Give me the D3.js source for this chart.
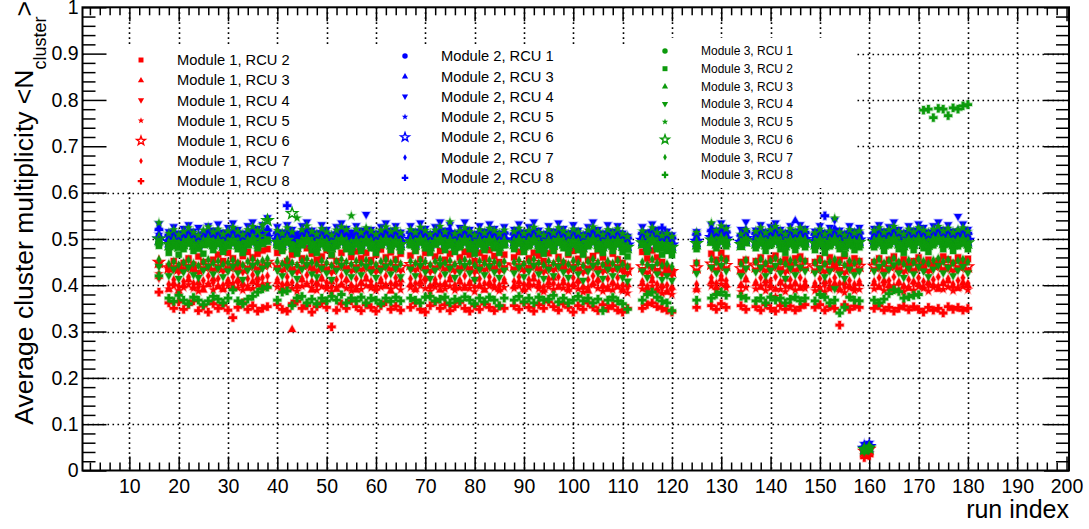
<!DOCTYPE html>
<html>
<head>
<meta charset="utf-8">
<script src="https://cdn.jsdelivr.net/npm/d3@7"></script>
<style>
  html, body { margin: 0; padding: 0; background: #fff; }
  svg { display: block; font-family: "Liberation Sans", Arial, Helvetica, sans-serif; }
</style>
</head>
<body>
<svg id="chart" width="1089" height="529"></svg>
<script>
// ---- run indices that have data (shared by every series) ----
const runs = [
  16,
  18,19,20,21,22,23,24,25,26,27,28,29,30,31,32,33,34,35,36,37,38,
  40,41,42,43,44,45,46,47,48,49,50,51,52,53,54,55,56,57,58,59,60,61,62,63,64,65,
  67,68,69,70,71,72,73,74,75,76,77,78,79,80,81,82,83,84,85,86,
  88,89,90,91,92,93,94,95,96,97,98,99,100,101,102,103,104,105,106,107,108,109,110,111,
  114,115,116,117,118,119,120,
  125,
  128,129,130,131,
  134,135,
  137,138,139,140,141,142,143,144,145,146,147,
  149,150,151,152,153,154,155,156,157,158,
  159,160,
  161,162,163,164,165,166,167,168,169,170,171,172,173,174,175,176,177,178,179,180
];

// ---- Module 1 ----
const m1r2 = [.445,
  .440,.452,.436,.448,.458,.444,.462,.450,.439,.455,.466,.452,.470,.458,.447,.463,.472,.460,.468,.475,.478,
  .470,.478,.452,.466,.474,.458,.480,.468,.455,.462,.476,.464,.452,.470,.479,.461,.473,.458,.470,.454,.466,.477,.460,.471,.456,.468,
  .464,.475,.456,.470,.481,.462,.474,.455,.468,.479,.460,.472,.466,.452,.470,.459,.476,.463,.450,.466,
  .460,.472,.478,.458,.470,.464,.452,.469,.476,.461,.448,.466,.474,.457,.470,.455,.463,.475,.460,.446,.468,.456,.448,.440,
  .472,.458,.475,.460,.450,.438,.430,
  .448,
  .468,.455,.470,.458,
  .450,.455,
  .452,.460,.446,.458,.464,.450,.456,.444,.458,.462,.452,
  .450,.458,.446,.460,.448,.455,.463,.447,.458,.452,
  .040,.045,
  .450,.458,.446,.455,.462,.449,.456,.444,.452,.460,.447,.455,.443,.452,.462,.456,.448,.460,.452,.457];
const m1r3 = [.420,
  .392,.404,.388,.400,.412,.396,.406,.390,.402,.414,.398,.392,.408,.396,.412,.404,.394,.408,.416,.402,.398,
  .408,.394,.404,.305,.398,.412,.402,.390,.406,.414,.398,.408,.392,.402,.412,.398,.390,.406,.414,.400,.394,.408,.398,.388,.404,.412,
  .402,.392,.408,.416,.398,.406,.390,.402,.412,.396,.408,.394,.404,.414,.400,.390,.406,.398,.392,.408,
  .398,.408,.392,.404,.414,.400,.390,.406,.416,.396,.406,.392,.402,.410,.396,.388,.404,.412,.398,.392,.406,.398,.390,.402,
  .404,.394,.410,.392,.400,.386,.396,
  .392,
  .408,.396,.414,.402,
  .400,.412,
  .404,.396,.410,.400,.392,.406,.414,.398,.404,.394,.402,
  .400,.392,.408,.396,.404,.392,.406,.398,.394,.404,
  .038,.042,
  .404,.396,.410,.400,.392,.406,.398,.394,.408,.402,.396,.406,.400,.392,.404,.410,.398,.394,.406,.400];
const m1r4 = [.445,
  .430,.436,.428,.433,.438,.431,.427,.435,.440,.432,.437,.430,.434,.439,.433,.428,.436,.441,.434,.438,.442,
  .436,.431,.440,.433,.428,.437,.442,.434,.430,.438,.433,.427,.436,.441,.435,.430,.437,.432,.439,.434,.429,.436,.440,.433,.438,.431,
  .437,.432,.440,.435,.429,.436,.441,.433,.438,.430,.435,.440,.434,.428,.437,.432,.439,.435,.430,.436,
  .434,.439,.431,.436,.441,.433,.428,.437,.432,.440,.435,.430,.438,.433,.427,.436,.441,.434,.429,.437,.432,.438,.430,.425,
  .432,.426,.438,.430,.424,.428,.422,
  .430,
  .438,.432,.440,.435,
  .428,.436,
  .432,.438,.430,.435,.440,.433,.428,.436,.431,.438,.434,
  .430,.436,.428,.433,.438,.431,.426,.435,.430,.433,
  .036,.040,
  .433,.438,.430,.435,.440,.432,.428,.436,.431,.438,.434,.429,.436,.440,.433,.437,.430,.435,.438,.432];
const m1r5 = [.425,
  .392,.398,.388,.395,.401,.393,.387,.396,.402,.390,.397,.391,.399,.404,.394,.389,.398,.393,.400,.395,.403,
  .396,.390,.399,.393,.387,.398,.402,.394,.389,.397,.392,.386,.395,.400,.393,.388,.397,.391,.399,.394,.389,.396,.401,.392,.398,.390,
  .395,.390,.399,.393,.387,.396,.401,.392,.398,.389,.394,.399,.393,.386,.397,.391,.398,.394,.388,.395,
  .393,.398,.389,.395,.400,.392,.386,.396,.391,.399,.394,.388,.397,.392,.385,.395,.400,.393,.387,.396,.390,.397,.388,.383,
  .392,.385,.398,.388,.382,.386,.380,
  .390,
  .398,.390,.402,.394,
  .386,.395,
  .392,.398,.388,.394,.376,.391,.386,.396,.389,.397,.393,
  .388,.395,.386,.392,.397,.389,.384,.394,.388,.391,
  .034,.038,
  .392,.397,.388,.394,.399,.390,.386,.395,.389,.397,.393,.387,.395,.399,.391,.396,.388,.394,.397,.390];
const m1r6 = [.450,
  .438,.443,.436,.441,.446,.439,.434,.442,.447,.440,.445,.438,.442,.447,.441,.436,.444,.449,.442,.446,.450,
  .444,.439,.448,.441,.436,.445,.450,.442,.438,.446,.441,.435,.444,.449,.443,.438,.445,.440,.447,.442,.437,.444,.448,.441,.446,.439,
  .445,.440,.448,.443,.437,.444,.449,.441,.446,.438,.443,.448,.442,.436,.445,.440,.447,.443,.438,.444,
  .442,.447,.439,.444,.449,.441,.436,.445,.440,.448,.443,.438,.446,.441,.435,.444,.449,.442,.437,.445,.440,.446,.438,.433,
  .440,.434,.446,.438,.432,.436,.430,
  .438,
  .446,.440,.448,.443,
  .436,.444,
  .440,.446,.438,.443,.448,.441,.436,.444,.439,.446,.442,
  .438,.444,.436,.441,.446,.439,.434,.443,.438,.441,
  .042,.046,
  .441,.446,.438,.443,.448,.440,.436,.444,.439,.446,.442,.437,.444,.448,.441,.445,.438,.443,.446,.440];
const m1r7 = [.415,
  .402,.412,.398,.408,.418,.404,.396,.410,.420,.406,.414,.400,.410,.418,.406,.398,.414,.422,.408,.416,.420,
  .412,.402,.418,.406,.398,.414,.422,.408,.400,.416,.406,.396,.412,.420,.410,.400,.414,.404,.418,.408,.398,.412,.420,.404,.416,.402,
  .414,.404,.420,.410,.398,.412,.420,.404,.416,.400,.410,.420,.406,.396,.414,.404,.418,.410,.400,.412,
  .408,.418,.402,.412,.420,.406,.396,.414,.404,.418,.410,.400,.416,.406,.396,.412,.420,.408,.398,.414,.404,.416,.400,.394,
  .408,.396,.416,.402,.394,.400,.390,
  .402,
  .416,.404,.420,.410,
  .400,.414,
  .406,.416,.402,.410,.418,.406,.398,.412,.404,.416,.408,
  .404,.414,.400,.408,.416,.404,.396,.410,.402,.408,
  .040,.044,
  .408,.416,.402,.410,.418,.406,.398,.412,.404,.416,.408,.400,.412,.418,.406,.414,.402,.410,.416,.404];
const m1r8 = [.385,
  .362,.350,.364,.348,.358,.366,.345,.355,.342,.360,.350,.357,.346,.330,.352,.362,.348,.356,.344,.350,.354,
  .358,.348,.344,.360,.365,.350,.356,.342,.354,.362,.352,.310,.346,.360,.350,.366,.354,.345,.358,.352,.344,.356,.364,.348,.355,.346,
  .352,.362,.348,.342,.356,.364,.350,.358,.345,.354,.363,.350,.344,.356,.348,.360,.352,.345,.355,.350,
  .356,.348,.362,.352,.344,.358,.350,.364,.354,.346,.360,.352,.342,.356,.348,.362,.353,.345,.358,.350,.356,.346,.342,.350,
  .350,.358,.362,.354,.350,.346,.342,
  .352,
  .356,.348,.360,.352,
  .356,.348,
  .354,.346,.358,.350,.344,.356,.348,.355,.346,.352,.358,
  .352,.358,.346,.354,.350,.314,.358,.348,.355,.352,
  .028,.032,
  .350,.356,.346,.352,.344,.350,.355,.347,.354,.348,.342,.352,.346,.350,.340,.354,.348,.352,.346,.350];

// ---- Module 2 ----
const m2r1 = [.505,
  .498,.503,.495,.500,.506,.499,.494,.502,.507,.500,.504,.497,.501,.507,.500,.495,.503,.508,.501,.505,.509,
  .503,.498,.507,.500,.495,.504,.509,.501,.497,.505,.500,.494,.503,.508,.502,.497,.504,.499,.506,.501,.496,.503,.507,.500,.505,.498,
  .504,.499,.507,.502,.496,.503,.508,.500,.505,.497,.502,.507,.501,.495,.504,.499,.506,.502,.497,.503,
  .501,.506,.498,.503,.508,.500,.495,.504,.499,.507,.502,.497,.505,.500,.494,.503,.508,.501,.496,.504,.499,.505,.497,.492,
  .502,.496,.508,.500,.494,.498,.492,
  .500,
  .508,.502,.510,.505,
  .498,.506,
  .502,.508,.500,.505,.510,.503,.498,.506,.501,.508,.504,
  .500,.506,.498,.503,.508,.501,.496,.505,.500,.503,
  .050,.054,
  .503,.508,.500,.505,.510,.502,.498,.506,.501,.508,.504,.499,.506,.510,.503,.507,.500,.505,.508,.502];
const m2r3 = [.525,
  .512,.517,.509,.514,.520,.513,.508,.516,.521,.514,.518,.511,.515,.521,.514,.509,.517,.522,.515,.519,.523,
  .517,.512,.521,.514,.509,.518,.523,.515,.511,.519,.514,.508,.517,.522,.516,.511,.518,.513,.520,.515,.510,.517,.521,.514,.519,.512,
  .518,.513,.521,.516,.510,.517,.522,.514,.519,.511,.516,.521,.515,.509,.518,.513,.520,.516,.511,.517,
  .515,.520,.512,.517,.522,.514,.509,.518,.513,.521,.516,.511,.519,.514,.508,.517,.522,.515,.510,.518,.513,.519,.511,.506,
  .516,.510,.522,.514,.508,.512,.506,
  .514,
  .522,.516,.524,.519,
  .512,.520,
  .516,.522,.514,.519,.524,.517,.512,.520,.540,.522,.518,
  .514,.520,.512,.517,.522,.515,.510,.519,.514,.517,
  .052,.056,
  .517,.522,.514,.519,.524,.516,.512,.520,.515,.522,.518,.513,.520,.524,.517,.521,.514,.519,.522,.516];
const m2r4 = [.532,
  .515,.526,.512,.522,.530,.516,.524,.510,.528,.518,.532,.514,.524,.534,.520,.512,.528,.536,.522,.530,.545,
  .526,.514,.530,.520,.510,.528,.536,.518,.512,.530,.520,.508,.526,.534,.522,.514,.528,.518,.552,.520,.512,.526,.534,.518,.528,.514,
  .528,.516,.534,.522,.510,.526,.536,.518,.530,.512,.524,.536,.520,.510,.528,.516,.532,.522,.512,.526,
  .520,.532,.514,.526,.536,.518,.510,.528,.516,.534,.522,.512,.530,.518,.508,.526,.536,.520,.512,.530,.516,.528,.512,.505,
  .526,.514,.532,.520,.510,.516,.508,
  .515,
  .530,.518,.534,.524,
  .520,.536,
  .518,.530,.514,.526,.534,.520,.512,.528,.516,.530,.522,
  .516,.528,.512,.524,.540,.518,.510,.528,.516,.524,
  .055,.058,
  .522,.530,.516,.526,.536,.520,.512,.528,.518,.532,.524,.514,.528,.536,.520,.530,.516,.548,.532,.520];
const m2r5 = [.510,
  .505,.509,.502,.507,.512,.506,.501,.508,.513,.506,.510,.503,.507,.512,.506,.502,.509,.514,.507,.511,.515,
  .509,.504,.512,.506,.501,.510,.514,.507,.503,.511,.506,.500,.509,.513,.508,.503,.510,.505,.512,.507,.502,.509,.513,.506,.511,.504,
  .510,.505,.513,.508,.502,.509,.514,.506,.511,.503,.508,.513,.507,.501,.510,.505,.512,.508,.503,.509,
  .507,.512,.504,.509,.514,.506,.501,.510,.505,.513,.508,.503,.511,.506,.500,.509,.514,.507,.502,.510,.505,.511,.503,.498,
  .508,.502,.514,.506,.500,.504,.498,
  .506,
  .514,.508,.516,.511,
  .504,.512,
  .508,.514,.506,.511,.516,.509,.504,.512,.507,.514,.510,
  .506,.512,.504,.509,.514,.507,.502,.511,.506,.509,
  .058,.060,
  .509,.514,.506,.511,.516,.508,.504,.512,.507,.514,.510,.505,.512,.516,.509,.513,.506,.511,.514,.508];
const m2r6 = [.500,
  .494,.498,.491,.496,.501,.495,.490,.497,.502,.495,.499,.492,.496,.501,.495,.491,.498,.503,.496,.500,.504,
  .498,.493,.501,.495,.490,.499,.504,.496,.492,.500,.495,.489,.498,.503,.497,.492,.499,.494,.501,.496,.491,.498,.502,.495,.500,.493,
  .499,.494,.502,.497,.491,.498,.503,.495,.500,.492,.497,.502,.496,.490,.499,.494,.501,.497,.492,.498,
  .496,.501,.493,.498,.503,.495,.490,.499,.494,.502,.497,.492,.500,.495,.489,.498,.503,.496,.491,.499,.494,.500,.492,.487,
  .497,.491,.503,.495,.489,.493,.487,
  .495,
  .503,.497,.505,.500,
  .493,.501,
  .497,.503,.495,.500,.505,.498,.493,.501,.496,.503,.499,
  .495,.501,.493,.498,.503,.496,.491,.500,.495,.498,
  .048,.052,
  .498,.503,.495,.500,.505,.497,.493,.501,.496,.503,.499,.494,.501,.505,.498,.502,.495,.500,.503,.497];
const m2r7 = [.508,
  .500,.504,.498,.503,.507,.501,.496,.504,.509,.502,.506,.499,.503,.508,.502,.497,.505,.510,.503,.507,.511,
  .505,.500,.508,.502,.497,.506,.511,.503,.499,.507,.502,.496,.505,.510,.504,.499,.506,.501,.508,.503,.498,.505,.509,.502,.507,.500,
  .506,.501,.509,.504,.498,.505,.510,.502,.507,.499,.504,.509,.503,.497,.506,.501,.508,.504,.499,.505,
  .503,.508,.500,.505,.510,.502,.497,.506,.501,.509,.504,.499,.507,.502,.496,.505,.510,.503,.498,.506,.501,.507,.499,.494,
  .504,.498,.510,.502,.496,.500,.494,
  .502,
  .510,.504,.512,.507,
  .500,.508,
  .504,.510,.502,.507,.512,.505,.500,.508,.503,.510,.506,
  .502,.508,.500,.505,.510,.503,.498,.507,.502,.505,
  .052,.055,
  .505,.510,.502,.507,.512,.504,.500,.508,.503,.510,.506,.501,.508,.512,.505,.509,.502,.507,.510,.504];
const m2r8 = [.520,
  .508,.513,.505,.510,.516,.509,.504,.512,.517,.510,.514,.507,.511,.517,.510,.505,.513,.518,.511,.515,.519,
  .513,.508,.572,.510,.505,.514,.519,.511,.507,.515,.510,.504,.513,.518,.512,.507,.514,.509,.516,.511,.506,.513,.517,.510,.515,.508,
  .514,.509,.517,.512,.506,.513,.518,.510,.515,.507,.512,.517,.511,.505,.514,.509,.516,.512,.507,.513,
  .511,.516,.508,.513,.518,.510,.505,.514,.509,.517,.512,.507,.515,.510,.504,.513,.518,.511,.506,.514,.509,.515,.507,.502,
  .512,.506,.518,.510,.524,.508,.502,
  .510,
  .518,.512,.520,.515,
  .508,.516,
  .512,.518,.510,.515,.520,.513,.508,.516,.511,.518,.514,
  .510,.516,.550,.513,.518,.511,.506,.515,.510,.513,
  .050,.053,
  .513,.518,.510,.515,.520,.512,.508,.516,.511,.518,.514,.509,.516,.520,.513,.517,.510,.515,.518,.512];

// ---- Module 3 ----
const m3r1 = [.495,
  .486,.491,.484,.489,.494,.487,.482,.490,.495,.488,.492,.485,.489,.494,.488,.483,.491,.496,.489,.493,.497,
  .491,.486,.495,.488,.483,.492,.497,.489,.485,.493,.488,.482,.491,.496,.490,.485,.492,.487,.494,.489,.484,.491,.495,.488,.493,.486,
  .492,.487,.495,.490,.484,.491,.496,.488,.493,.485,.490,.495,.489,.483,.492,.487,.494,.490,.485,.491,
  .489,.494,.486,.491,.496,.488,.483,.492,.487,.495,.490,.485,.493,.488,.482,.491,.496,.489,.484,.492,.487,.493,.485,.480,
  .490,.484,.496,.488,.482,.486,.480,
  .488,
  .496,.490,.498,.493,
  .486,.494,
  .490,.496,.488,.493,.498,.491,.486,.494,.489,.496,.492,
  .488,.494,.486,.491,.496,.489,.484,.493,.488,.491,
  .045,.050,
  .491,.496,.488,.493,.498,.490,.486,.494,.489,.496,.492,.487,.494,.498,.491,.495,.488,.493,.496,.490];
const m3r2 = [.485,
  .470,.484,.466,.478,.490,.474,.482,.468,.488,.476,.492,.472,.484,.494,.478,.470,.486,.494,.480,.490,.498,
  .484,.474,.494,.478,.468,.486,.496,.476,.470,.488,.480,.466,.484,.496,.478,.472,.488,.474,.492,.480,.470,.486,.494,.476,.488,.474,
  .486,.474,.494,.480,.470,.488,.496,.476,.486,.472,.482,.494,.478,.468,.488,.476,.492,.480,.470,.486,
  .478,.490,.472,.484,.494,.476,.468,.486,.474,.492,.480,.470,.488,.476,.466,.484,.494,.478,.470,.486,.474,.488,.472,.462,
  .488,.472,.496,.478,.466,.474,.465,
  .478,
  .492,.480,.494,.484,
  .488,.498,
  .480,.490,.474,.486,.494,.478,.470,.488,.476,.490,.482,
  .476,.488,.470,.484,.492,.478,.468,.486,.476,.482,
  .044,.048,
  .482,.490,.474,.486,.494,.478,.470,.488,.476,.492,.480,.472,.486,.494,.478,.488,.474,.484,.490,.478];
const m3r3 = [.491,
  .482,.487,.480,.485,.490,.483,.478,.486,.491,.484,.488,.481,.485,.490,.484,.479,.487,.492,.485,.489,.493,
  .487,.482,.491,.484,.479,.488,.493,.485,.481,.489,.484,.478,.487,.492,.486,.481,.488,.483,.490,.485,.480,.487,.491,.484,.489,.482,
  .488,.483,.491,.486,.480,.487,.492,.484,.489,.481,.486,.491,.485,.479,.488,.483,.490,.486,.481,.487,
  .485,.490,.482,.487,.492,.484,.479,.488,.483,.491,.486,.481,.489,.484,.478,.487,.492,.485,.480,.488,.483,.489,.481,.476,
  .486,.480,.492,.484,.478,.482,.476,
  .484,
  .492,.486,.494,.489,
  .482,.490,
  .486,.492,.484,.489,.494,.487,.482,.490,.485,.492,.488,
  .484,.490,.482,.487,.492,.485,.480,.489,.484,.487,
  .042,.046,
  .487,.492,.484,.489,.494,.486,.482,.490,.485,.492,.488,.483,.490,.494,.487,.491,.484,.489,.492,.486];
const m3r4 = [.440,
  .420,.434,.414,.428,.438,.422,.416,.432,.440,.424,.436,.418,.430,.440,.426,.412,.432,.442,.426,.436,.444,
  .432,.420,.440,.426,.414,.434,.444,.424,.418,.436,.426,.412,.432,.442,.428,.418,.434,.422,.440,.428,.416,.432,.440,.424,.436,.418,
  .434,.420,.442,.428,.414,.432,.444,.424,.436,.416,.428,.442,.426,.412,.434,.422,.440,.428,.416,.432,
  .426,.438,.418,.430,.442,.424,.414,.434,.420,.440,.428,.416,.436,.424,.410,.430,.442,.426,.414,.434,.420,.436,.416,.408,
  .430,.416,.440,.424,.412,.420,.410,
  .425,
  .438,.426,.442,.430,
  .420,.436,
  .428,.438,.420,.432,.442,.426,.414,.436,.422,.438,.430,
  .426,.436,.418,.430,.392,.424,.414,.434,.422,.430,
  .040,.044,
  .430,.440,.422,.434,.444,.426,.416,.436,.424,.440,.430,.418,.434,.442,.426,.438,.420,.432,.440,.426];
const m3r5 = [.535,
  .512,.520,.509,.516,.524,.514,.508,.519,.526,.515,.521,.510,.517,.525,.516,.509,.520,.527,.518,.530,.540,
  .518,.512,.524,.515,.545,.520,.528,.516,.510,.522,.515,.508,.519,.526,.520,.550,.521,.514,.524,.517,.510,.519,.526,.516,.522,.513,
  .520,.514,.525,.518,.510,.519,.527,.515,.537,.511,.517,.524,.516,.508,.520,.513,.523,.518,.511,.519,
  .516,.523,.512,.518,.525,.514,.508,.520,.513,.524,.517,.510,.521,.515,.507,.519,.526,.516,.509,.520,.513,.522,.511,.505,
  .517,.509,.524,.514,.507,.512,.505,
  .514,
  .535,.518,.528,.522,
  .510,.520,
  .516,.524,.513,.520,.527,.517,.510,.522,.515,.524,.519,
  .513,.521,.510,.517,.545,.515,.508,.520,.513,.517,
  .046,.050,
  .518,.524,.514,.520,.527,.516,.510,.521,.515,.524,.519,.512,.521,.527,.517,.523,.514,.520,.524,.516];
const m3r6 = [.500,
  .488,.493,.485,.490,.496,.489,.484,.492,.497,.490,.494,.487,.491,.497,.490,.485,.493,.498,.505,.512,.540,
  .493,.488,.497,.555,.485,.494,.499,.491,.487,.495,.490,.484,.493,.498,.492,.487,.494,.489,.496,.491,.486,.493,.497,.490,.495,.488,
  .494,.489,.497,.492,.486,.493,.498,.490,.495,.487,.492,.497,.491,.485,.494,.489,.496,.492,.487,.493,
  .491,.496,.488,.493,.498,.490,.485,.494,.489,.497,.492,.487,.495,.490,.484,.493,.498,.491,.486,.494,.489,.495,.487,.482,
  .492,.486,.498,.490,.484,.488,.482,
  .490,
  .498,.492,.500,.495,
  .488,.496,
  .492,.498,.490,.495,.500,.493,.488,.496,.491,.498,.494,
  .490,.496,.488,.493,.498,.491,.486,.495,.490,.493,
  .046,.049,
  .493,.498,.490,.495,.500,.492,.488,.496,.491,.498,.494,.489,.496,.500,.493,.497,.490,.495,.498,.492];
const m3r7 = [.455,
  .446,.451,.444,.449,.454,.447,.442,.450,.455,.448,.452,.445,.449,.454,.448,.443,.451,.456,.449,.453,.457,
  .451,.446,.455,.448,.443,.452,.457,.449,.445,.453,.448,.442,.451,.456,.450,.445,.452,.447,.454,.449,.444,.451,.455,.448,.453,.446,
  .452,.447,.455,.450,.444,.451,.456,.448,.453,.445,.450,.455,.449,.443,.452,.447,.454,.450,.445,.451,
  .449,.454,.446,.451,.456,.448,.443,.452,.447,.455,.450,.445,.453,.448,.442,.451,.456,.449,.444,.452,.447,.453,.445,.440,
  .450,.444,.456,.448,.442,.446,.440,
  .448,
  .456,.450,.458,.453,
  .446,.454,
  .450,.456,.448,.453,.458,.451,.446,.454,.449,.456,.452,
  .448,.454,.446,.451,.456,.449,.444,.453,.448,.451,
  .044,.047,
  .451,.456,.448,.453,.458,.450,.446,.454,.449,.456,.452,.447,.454,.458,.451,.455,.448,.453,.456,.450];
const m3r8 = [.420,
  .372,.365,.378,.368,.360,.374,.368,.358,.366,.376,.370,.362,.372,.390,.366,.360,.370,.376,.385,.392,.396,
  .368,.385,.388,.356,.372,.376,.362,.370,.360,.372,.366,.376,.368,.380,.362,.372,.366,.374,.362,.372,.368,.360,.372,.365,.374,.366,
  .372,.368,.362,.374,.376,.366,.370,.374,.362,.370,.366,.375,.368,.360,.372,.364,.374,.368,.356,.372,
  .368,.376,.364,.372,.362,.374,.368,.370,.378,.364,.372,.362,.368,.376,.366,.372,.362,.370,.345,.368,.374,.366,.360,.348,
  .368,.380,.385,.374,.366,.362,.345,
  .368,
  .372,.380,.385,.378,
  .376,.372,
  .366,.372,.362,.374,.368,.372,.362,.370,.374,.366,.372,
  .366,.380,.374,.362,.368,.340,.352,.374,.368,.366,
  .045,.048,
  .368,.362,.370,.382,.390,.386,.372,.375,.378,.380,.778,.780,.762,.782,.780,.766,.783,.780,.787,.790];

// ---- axis tick labels ----
const xTickValues = [10,20,30,40,50,60,70,80,90,100,110,120,130,140,150,160,170,180,190,200];
const yTickValues = [0,0.1,0.2,0.3,0.4,0.5,0.6,0.7,0.8,0.9,1];
const yTickLabels = ["0","0.1","0.2","0.3","0.4","0.5","0.6","0.7","0.8","0.9","1"];

const RED = "#ff0000", BLUE = "#0000ff", GREEN = "#0c9a0c";

const series = [
  {label: "Module 1, RCU 2", color: RED,   marker: "square",   values: m1r2},
  {label: "Module 1, RCU 3", color: RED,   marker: "triUp",    values: m1r3},
  {label: "Module 1, RCU 4", color: RED,   marker: "triDown",  values: m1r4},
  {label: "Module 1, RCU 5", color: RED,   marker: "star",     values: m1r5},
  {label: "Module 1, RCU 6", color: RED,   marker: "openStar", values: m1r6},
  {label: "Module 1, RCU 7", color: RED,   marker: "diamond",  values: m1r7},
  {label: "Module 1, RCU 8", color: RED,   marker: "cross",    values: m1r8},
  {label: "Module 2, RCU 1", color: BLUE,  marker: "circle",   values: m2r1},
  {label: "Module 2, RCU 3", color: BLUE,  marker: "triUp",    values: m2r3},
  {label: "Module 2, RCU 4", color: BLUE,  marker: "triDown",  values: m2r4},
  {label: "Module 2, RCU 5", color: BLUE,  marker: "star",     values: m2r5},
  {label: "Module 2, RCU 6", color: BLUE,  marker: "openStar", values: m2r6},
  {label: "Module 2, RCU 7", color: BLUE,  marker: "diamond",  values: m2r7},
  {label: "Module 2, RCU 8", color: BLUE,  marker: "cross",    values: m2r8},
  {label: "Module 3, RCU 1", color: GREEN, marker: "circle",   values: m3r1},
  {label: "Module 3, RCU 2", color: GREEN, marker: "square",   values: m3r2},
  {label: "Module 3, RCU 3", color: GREEN, marker: "triUp",    values: m3r3},
  {label: "Module 3, RCU 4", color: GREEN, marker: "triDown",  values: m3r4},
  {label: "Module 3, RCU 5", color: GREEN, marker: "star",     values: m3r5},
  {label: "Module 3, RCU 6", color: GREEN, marker: "openStar", values: m3r6},
  {label: "Module 3, RCU 7", color: GREEN, marker: "diamond",  values: m3r7},
  {label: "Module 3, RCU 8", color: GREEN, marker: "cross",    values: m3r8}
];

// ---- layout ----
const frame = {left: 82.5, right: 1069, top: 7.3, bottom: 470.5};
const x = d3.scaleLinear().domain([0.5, 200.5]).range([frame.left, frame.right]);
const y = d3.scaleLinear().domain([0, 1]).range([frame.bottom, frame.top]);
const svg = d3.select("#chart");

// ---- marker shapes (ROOT style) ----
function starPath(R, r) {
  const pts = [];
  for (let k = 0; k < 10; k++) {
    const a = -Math.PI / 2 + k * Math.PI / 5;
    const rad = k % 2 === 0 ? R : r;
    pts.push([rad * Math.cos(a), rad * Math.sin(a)]);
  }
  return "M" + pts.map(p => p[0].toFixed(2) + "," + p[1].toFixed(2)).join("L") + "Z";
}
function markerPath(type, s) {
  switch (type) {
    case "circle":   return d3.symbol(d3.symbolCircle, Math.PI * (3.4 * s) * (3.4 * s))();
    case "square":   { const h = 3.1 * s; return `M${-h},${-h}H${h}V${h}H${-h}Z`; }
    case "triUp":    return `M0,${-4.1 * s}L${3.9 * s},${2.7 * s}L${-3.9 * s},${2.7 * s}Z`;
    case "triDown":  return `M0,${4.1 * s}L${3.9 * s},${-2.7 * s}L${-3.9 * s},${-2.7 * s}Z`;
    case "star":     return starPath(4.2 * s, 1.8 * s);
    case "openStar": return starPath(5.8 * s, 2.4 * s);
    case "diamond":  return `M0,${-4.2 * s}L${2.3 * s},0L0,${4.2 * s}L${-2.3 * s},0Z`;
    case "cross":    { const a = 4.1 * s, t = 1.4 * s;
      return `M${-t},${-a}H${t}V${-t}H${a}V${t}H${t}V${a}H${-t}V${t}H${-a}V${-t}H${-t}Z`; }
  }
}
function styleMarker(sel, d, halo) {
  if (d.marker === "openStar") {
    sel.attr("fill", "none").attr("stroke", d.color).attr("stroke-width", 1.4);
  } else {
    sel.attr("fill", d.color)
      .attr("stroke", halo ? d.color : "none")
      .attr("stroke-opacity", 0.3).attr("stroke-width", 1.6);
  }
}

// ---- grid ----
const grid = svg.append("g").attr("stroke", "#000").attr("stroke-width", 1.6)
  .attr("stroke-dasharray", "1.6,3.4").attr("fill", "none");
grid.selectAll("line.gx").data(xTickValues.filter(v => v < 200)).join("line")
  .attr("x1", d => Math.round(x(d)) + 0.5).attr("x2", d => Math.round(x(d)) + 0.5)
  .attr("y1", frame.top).attr("y2", frame.bottom);
grid.selectAll("line.gy").data(yTickValues.filter(v => v > 0 && v < 1)).join("line")
  .attr("y1", d => Math.round(y(d)) + 0.5).attr("y2", d => Math.round(y(d)) + 0.5)
  .attr("x1", frame.left).attr("x2", frame.right);

// ---- legend backgrounds (white boxes, no border) ----
const legendBoxes = [
  {x0: 84, x1: 392, y0: 45, y1: 190},
  {x0: 392, x1: 652, y0: 44, y1: 189},
  {x0: 652, x1: 856, y0: 38, y1: 188}
];
svg.append("g").selectAll("rect").data(legendBoxes).join("rect")
  .attr("x", d => d.x0).attr("y", d => d.y0)
  .attr("width", d => d.x1 - d.x0).attr("height", d => d.y1 - d.y0)
  .attr("fill", "#fff");

// ---- axes ----
const xMinor = d3.range(2, 201, 2).filter(v => v % 10 !== 0);
const yMinor = d3.range(0.02, 1, 0.02).filter(v => Math.abs(v * 10 - Math.round(v * 10)) > 1e-6);
const fmtY = d => yTickLabels[yTickValues.indexOf(d)];

function plainAxis(g) {
  g.select(".domain").remove();
  g.selectAll(".tick line").attr("stroke", "#000").attr("stroke-width", 1.5);
}
const labelStyle = g => g.selectAll("text").attr("font-size", 19.5).attr("fill", "#000")
  .attr("font-family", "Liberation Sans, Arial, sans-serif");

svg.append("g").attr("transform", `translate(0,${frame.bottom})`)
  .call(d3.axisBottom(x).tickValues(xTickValues).tickSize(-14).tickPadding(9).tickFormat(d3.format("d")))
  .call(plainAxis).call(labelStyle);
svg.append("g").attr("transform", `translate(0,${frame.bottom})`)
  .call(d3.axisBottom(x).tickValues(xMinor).tickSize(-8).tickFormat(""))
  .call(plainAxis);
svg.append("g").attr("transform", `translate(0,${frame.top})`)
  .call(d3.axisTop(x).tickValues(xTickValues).tickSize(-14).tickFormat(""))
  .call(plainAxis);
svg.append("g").attr("transform", `translate(0,${frame.top})`)
  .call(d3.axisTop(x).tickValues(xMinor).tickSize(-8).tickFormat(""))
  .call(plainAxis);

svg.append("g").attr("transform", `translate(${frame.left},0)`)
  .call(d3.axisLeft(y).tickValues(yTickValues).tickSize(-24).tickPadding(4).tickFormat(fmtY))
  .call(plainAxis).call(labelStyle);
svg.append("g").attr("transform", `translate(${frame.left},0)`)
  .call(d3.axisLeft(y).tickValues(yMinor).tickSize(-13).tickFormat(""))
  .call(plainAxis);
svg.append("g").attr("transform", `translate(${frame.right},0)`)
  .call(d3.axisRight(y).tickValues(yTickValues).tickSize(-25).tickFormat(""))
  .call(plainAxis);
svg.append("g").attr("transform", `translate(${frame.right},0)`)
  .call(d3.axisRight(y).tickValues(yMinor).tickSize(-13).tickFormat(""))
  .call(plainAxis);

// ---- data points ----
const pts = svg.append("g");
series.forEach(s => {
  const data = runs.map((r, i) => ({run: r, v: s.values[i]})).filter(d => d.v != null);
  const path = markerPath(s.marker, 1);
  pts.append("g").selectAll("path").data(data).join("path")
    .attr("d", path)
    .attr("transform", d => `translate(${x(d.run)},${y(d.v)})`)
    .call(sel => styleMarker(sel, s, true));
});

// ---- frame ----
svg.append("rect")
  .attr("x", frame.left).attr("y", frame.top)
  .attr("width", frame.right - frame.left).attr("height", frame.bottom - frame.top)
  .attr("fill", "none").attr("stroke", "#000").attr("stroke-width", 2);

// ---- axis titles ----
const yTitle = svg.append("text")
  .attr("transform", "translate(33,1) rotate(-90)")
  .attr("text-anchor", "end").attr("font-size", 26.5).attr("fill", "#000");
yTitle.append("tspan").text("Average cluster multiplicity <N");
yTitle.append("tspan").attr("font-size", 18).attr("dy", 13).text("cluster");
yTitle.append("tspan").attr("dy", -13).text(">");

svg.append("text").attr("x", 1069).attr("y", 518).attr("text-anchor", "end")
  .attr("font-size", 25).attr("fill", "#000").text("run index");

// ---- legend (three columns) ----
const legendCols = [
  {items: series.slice(0, 7),  mx: 141, tx: 177, y0: 60, dy: 20.2, font: 14.7},
  {items: series.slice(7, 14), mx: 405, tx: 441, y0: 56, dy: 20.3, font: 14.7},
  {items: series.slice(14),    mx: 665, tx: 701, y0: 51, dy: 17.7, font: 12}
];
const leg = svg.append("g");
legendCols.forEach(col => {
  col.items.forEach((s, i) => {
    const cy = col.y0 + i * col.dy;
    leg.append("path").attr("d", markerPath(s.marker, 0.8))
      .attr("transform", `translate(${col.mx},${cy})`)
      .call(sel => styleMarker(sel, s, false));
    leg.append("text").attr("x", col.tx).attr("y", cy).attr("dy", "0.36em")
      .attr("font-size", col.font).attr("fill", "#000").text(s.label);
  });
});
</script>
</body>
</html>
